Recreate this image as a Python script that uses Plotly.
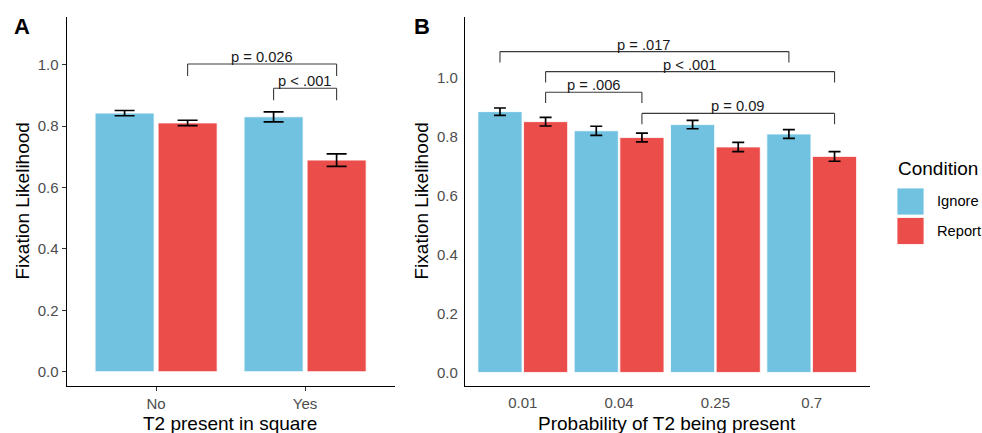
import plotly.graph_objects as go

# ---------------- data ----------------
cats_a = ["No", "Yes"]
ignore_a = [0.842, 0.830]
ignore_a_se = [0.0086, 0.0163]
report_a = [0.810, 0.689]
report_a_se = [0.0088, 0.0205]

cats_b = ["0.01", "0.04", "0.25", "0.7"]
ignore_b = [0.886, 0.821, 0.842, 0.810]
ignore_b_se = [0.0124, 0.0153, 0.0141, 0.0148]
report_b = [0.852, 0.798, 0.766, 0.734]
report_b_se = [0.0148, 0.0148, 0.0158, 0.0165]

y_ticks = [0.0, 0.2, 0.4, 0.6, 0.8, 1.0]
y_ticklabels = ["0.0", "0.2", "0.4", "0.6", "0.8", "1.0"]

# significance brackets: (cat1, cond1, cat2, cond2, y, label)
brackets_a = [
    ("No", "Report", "Yes", "Report", 1.002, "p = 0.026"),
    ("Yes", "Ignore", "Yes", "Report", 0.923, "p < .001"),
]
brackets_b = [
    ("0.01", "Ignore", "0.7", "Ignore", 1.090, "p = .017"),
    ("0.01", "Report", "0.7", "Report", 1.022, "p < .001"),
    ("0.01", "Report", "0.04", "Report", 0.952, "p = .006"),
    ("0.04", "Report", "0.7", "Report", 0.880, "p = 0.09"),
]

# ---------------- style ----------------
C_IGN = "#71C2E1"
C_REP = "#EB4D4B"
FONT = "Liberation Sans, Arial, Helvetica, sans-serif"
TICK_COL = "#4D4D4D"
W, H = 982, 433

# dodge geometry (category units)
dodge_a = {"Ignore": -0.2115, "Report": 0.2115}
barw_a = 0.396
dodge_b = {"Ignore": -0.237, "Report": 0.237}
barw_b = 0.458

fig = go.Figure()


def add_bars(cats, vals, se, name, color, dodge, bw, xa, ya, capw):
    xs = list(range(len(cats)))
    fig.add_trace(go.Bar(
        x=xs, y=vals, name=name, width=bw, offset=dodge[name] - bw / 2,
        marker=dict(color=color, line=dict(color="white", width=0.8)),
        error_y=dict(type="data", array=se, color="black", thickness=1.7, width=capw),
        xaxis=xa, yaxis=ya, showlegend=False,
    ))


add_bars(cats_a, ignore_a, ignore_a_se, "Ignore", C_IGN, dodge_a, barw_a, "x", "y", 10)
add_bars(cats_a, report_a, report_a_se, "Report", C_REP, dodge_a, barw_a, "x", "y", 10)
add_bars(cats_b, ignore_b, ignore_b_se, "Ignore", C_IGN, dodge_b, barw_b, "x2", "y2", 6)
add_bars(cats_b, report_b, report_b_se, "Report", C_REP, dodge_b, barw_b, "x2", "y2", 6)

shapes = []
annotations = []


def add_brackets(brs, cats, dodge, tip, xref, yref):
    for c1, g1, c2, g2, yv, lab in brs:
        x1 = cats.index(c1) + dodge[g1]
        x2 = cats.index(c2) + dodge[g2]
        for (xa0, ya0, xa1, ya1) in [(x1, yv - tip, x1, yv), (x1, yv, x2, yv), (x2, yv, x2, yv - tip)]:
            shapes.append(dict(type="line", xref=xref, yref=yref, x0=xa0, y0=ya0, x1=xa1, y1=ya1,
                               line=dict(color="#3a3a3a", width=1.1)))
        annotations.append(dict(x=(x1 + x2) / 2, y=yv, xref=xref, yref=yref, text=lab,
                                showarrow=False, yanchor="bottom", yshift=-3,
                                font=dict(size=14.7, color="#1a1a1a", family=FONT)))


add_brackets(brackets_a, cats_a, dodge_a, 0.039, "x", "y")
add_brackets(brackets_b, cats_b, dodge_b, 0.037, "x2", "y2")

# axis titles
for txt, x, y, ang in [
    ("Fixation Likelihood", 22 / W, 1 - 201.5 / H, -90),
    ("Fixation Likelihood", 421 / W, 1 - 201.5 / H, -90),
    ("T2 present in square", 230 / W, 1 - 423 / H, 0),
    ("Probability of T2 being present", 667 / W, 1 - 423 / H, 0),
]:
    annotations.append(dict(x=x, y=y, xref="paper", yref="paper", text=txt, showarrow=False,
                            textangle=ang, xanchor="center", yanchor="middle",
                            font=dict(size=19, color="black", family=FONT)))

# panel labels
for lab, x in [("A", 21.5 / W), ("B", 421.5 / W)]:
    annotations.append(dict(x=x, y=1 - 26 / H, xref="paper", yref="paper", text="<b>%s</b>" % lab,
                            showarrow=False, xanchor="center", yanchor="middle",
                            font=dict(size=22, color="black", family=FONT)))

# legend (drawn manually to get ggplot-sized keys)
annotations.append(dict(x=896 / W, y=1 - 169 / H, xref="paper", yref="paper", text="Condition",
                        showarrow=False, xanchor="left", yanchor="middle",
                        font=dict(size=19, color="black", family=FONT)))
for name, col, top, bot in [("Ignore", C_IGN, 188, 215), ("Report", C_REP, 217.5, 244.5)]:
    shapes.append(dict(type="rect", xref="paper", yref="paper", x0=897 / W, x1=924 / W,
                       y0=1 - bot / H, y1=1 - top / H, fillcolor=col, line=dict(color="white", width=0.8)))
    annotations.append(dict(x=935 / W, y=1 - (top + bot) / 2 / H, xref="paper", yref="paper", text=name,
                            showarrow=False, xanchor="left", yanchor="middle",
                            font=dict(size=14.7, color="black", family=FONT)))

ydom = [1 - 386 / H, 1 - 17 / H]
common_x = dict(showline=True, linecolor="black", linewidth=1.3, showgrid=False, zeroline=False,
                tickfont=dict(size=15, color=TICK_COL, family=FONT), fixedrange=True)
common_y = dict(showline=True, linecolor="black", linewidth=1.3, showgrid=False, zeroline=False,
                tickvals=y_ticks, ticktext=y_ticklabels,
                tickfont=dict(size=15, color=TICK_COL, family=FONT), fixedrange=True)

fig.update_layout(
    width=W, height=H, margin=dict(l=0, r=0, t=0, b=0),
    paper_bgcolor="white", plot_bgcolor="white",
    font=dict(family=FONT),
    xaxis=dict(domain=[66.7 / W, 394.5 / W], range=[-0.6, 1.6], anchor="y",
               tickvals=list(range(len(cats_a))), ticktext=cats_a,
               ticks="outside", ticklen=4, tickwidth=1.2, tickcolor="#333333", **common_x),
    yaxis=dict(domain=ydom, range=[-0.0466, 1.155], anchor="x",
               ticks="outside", ticklen=4, tickwidth=1.2, tickcolor="#333333", **common_y),
    xaxis2=dict(domain=[465 / W, 869.5 / W], range=[-0.6, 3.6], anchor="y2",
                tickvals=list(range(len(cats_b))), ticktext=cats_b, ticks="",
                ticklabelstandoff=3, **common_x),
    yaxis2=dict(domain=ydom, range=[-0.046, 1.2075], anchor="x2", ticks="",
                ticklabelstandoff=3, **common_y),
    shapes=shapes, annotations=annotations, showlegend=False,
)

fig.write_html("out.html")
